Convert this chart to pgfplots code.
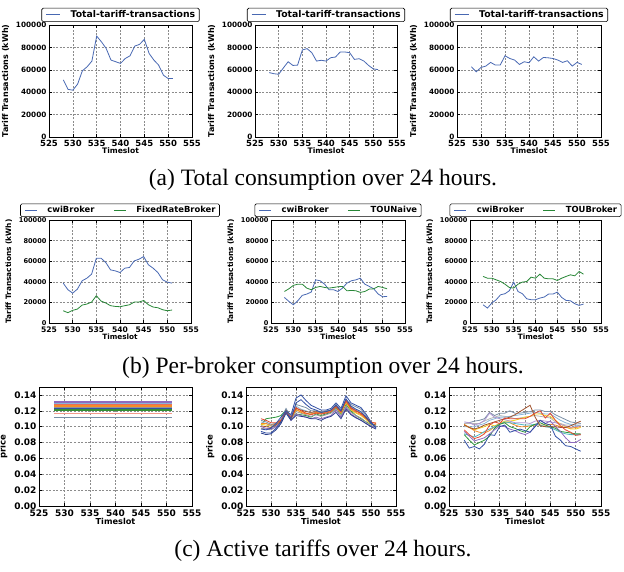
\documentclass[border=0pt]{standalone}
\usepackage{fontspec}
\setmainfont{Liberation Serif}
\newfontfamily\dvs{DejaVu Sans}
\usepackage{pgfplots}
\usepackage{pgfplotstable}
\pgfplotsset{compat=1.18}
\newcommand\fs[1]{\fontsize{#1}{#1}\selectfont}
\definecolor{mblue}{RGB}{72,104,178}
\definecolor{mgreen}{RGB}{40,135,55}
\definecolor{c1}{RGB}{50,80,165}
\definecolor{c2}{RGB}{226,74,51}
\definecolor{c3}{RGB}{245,140,40}
\definecolor{c4}{RGB}{44,150,60}
\definecolor{c5}{RGB}{142,107,191}
\definecolor{c6}{RGB}{122,143,166}
\definecolor{c7}{RGB}{136,181,216}
\definecolor{c8}{RGB}{43,63,140}
\definecolor{c9}{RGB}{245,208,32}
\definecolor{c10}{RGB}{160,82,45}
\definecolor{c11}{RGB}{77,182,194}
\definecolor{c12}{RGB}{150,150,150}
\definecolor{c13}{RGB}{240,128,110}

\pgfplotstableread{
t a b c
528 51000 57500 62700
529 42500 56500 58200
530 41800 56000 62100
531 47200 61700 63300
532 59100 67200 66600
533 62700 63900 64200
534 67800 64200 64200
535 90100 77700 72500
536 85000 78900 70100
537 79000 75300 68700
538 68700 67800 64800
539 67200 68500 67200
540 65700 67800 66300
541 70100 70800 71600
542 72500 71400 67800
543 81200 75900 71000
544 82700 75900 70700
545 87200 75300 70100
546 74600 69300 68700
547 68700 69900 66600
548 64200 67800 68100
549 55200 63900 63300
550 52200 60800 66600
551 52200 60200 64800
}\totals

\pgfplotstableread{
t c4 f4 c5 n5 c6 b6
528 38700 11900 24800 30600 17700 45200
529 32300 10000 21000 33200 14500 43500
530 29000 12300 17700 36500 19400 43500
531 32900 13500 21600 37700 22600 41900
532 41000 17400 26800 37700 27400 40300
533 43500 18400 28100 33900 28400 37700
534 47400 20300 30000 32300 31300 34500
535 62900 26500 41900 34500 39700 33900
536 62900 21300 41000 35500 30600 37700
537 58700 19400 37700 34500 28400 39700
538 51600 16800 32300 33900 23500 40300
539 50600 16100 32300 34500 22600 44500
540 49000 15800 30600 35200 22600 43500
541 53200 16800 33900 35500 24200 47400
542 53900 17700 38700 31300 25200 43500
543 60300 20300 41000 31600 28100 42900
544 61900 20300 41900 31300 28100 42900
545 64500 21900 43500 29700 30000 41300
546 56500 17700 37700 30600 24800 43500
547 53200 15500 35500 32900 21900 45200
548 49000 14800 33200 33200 21600 46800
549 41900 12900 28100 35500 18700 45800
550 39700 11900 25500 34500 17100 50000
551 38700 12600 25800 33200 18400 47400
}\brokers

\pgfplotstableread{
t L1 L2 L3 L4 L5 L6 L7 L8 L9 L10 L11 L12
528 0.097 0.094 0.110 0.104 0.102 0.100 0.108 0.106 0.092 0.103 0.101 0.098
529 0.096 0.092 0.108 0.104 0.110 0.098 0.106 0.104 0.090 0.102 0.100 0.097
530 0.098 0.092 0.105 0.102 0.111 0.097 0.103 0.101 0.091 0.101 0.099 0.096
531 0.104 0.098 0.105 0.104 0.112 0.100 0.104 0.103 0.096 0.103 0.102 0.100
532 0.112 0.106 0.108 0.108 0.114 0.106 0.109 0.108 0.104 0.107 0.107 0.105
533 0.120 0.118 0.118 0.120 0.121 0.119 0.123 0.120 0.117 0.119 0.121 0.118
534 0.115 0.110 0.112 0.111 0.112 0.108 0.112 0.111 0.108 0.110 0.110 0.109
535 0.136 0.130 0.124 0.122 0.116 0.116 0.128 0.126 0.114 0.121 0.123 0.119
536 0.140 0.134 0.120 0.118 0.115 0.114 0.126 0.122 0.113 0.119 0.121 0.117
537 0.133 0.128 0.117 0.116 0.114 0.112 0.124 0.120 0.112 0.117 0.119 0.115
538 0.127 0.123 0.115 0.116 0.112 0.110 0.120 0.117 0.110 0.116 0.118 0.113
539 0.124 0.121 0.117 0.118 0.116 0.112 0.120 0.118 0.110 0.117 0.119 0.115
540 0.121 0.118 0.116 0.117 0.114 0.110 0.119 0.117 0.108 0.116 0.118 0.113
541 0.121 0.119 0.117 0.118 0.116 0.112 0.120 0.118 0.111 0.118 0.119 0.115
542 0.123 0.121 0.119 0.120 0.118 0.114 0.121 0.120 0.113 0.119 0.121 0.117
543 0.130 0.127 0.125 0.126 0.124 0.121 0.128 0.126 0.118 0.125 0.127 0.122
544 0.123 0.120 0.118 0.119 0.116 0.112 0.121 0.119 0.110 0.117 0.119 0.114
545 0.139 0.135 0.133 0.131 0.128 0.124 0.134 0.132 0.122 0.130 0.133 0.126
546 0.130 0.126 0.123 0.122 0.120 0.116 0.128 0.125 0.115 0.121 0.124 0.118
547 0.127 0.122 0.120 0.118 0.114 0.112 0.125 0.121 0.111 0.117 0.120 0.114
548 0.124 0.119 0.116 0.115 0.110 0.108 0.122 0.118 0.108 0.114 0.117 0.111
549 0.116 0.112 0.112 0.110 0.106 0.104 0.114 0.112 0.104 0.109 0.111 0.106
550 0.106 0.104 0.106 0.105 0.103 0.100 0.104 0.104 0.100 0.103 0.104 0.101
551 0.098 0.099 0.104 0.105 0.102 0.099 0.100 0.101 0.097 0.103 0.102 0.100
}\pricesB

\pgfplotstableread{
t gb rd db gr pu ye lb lv or tl gy br
528 0.104 0.096 0.083 0.090 0.094 0.102 0.100 0.106 0.103 0.091 0.104 0.102
529 0.105 0.090 0.073 0.083 0.088 0.099 0.100 0.105 0.099 0.089 0.104 0.099
530 0.107 0.085 0.075 0.077 0.082 0.096 0.100 0.102 0.095 0.087 0.104 0.097
531 0.108 0.087 0.072 0.080 0.084 0.098 0.102 0.104 0.093 0.090 0.104 0.099
532 0.110 0.091 0.078 0.083 0.086 0.100 0.104 0.108 0.092 0.094 0.107 0.102
533 0.118 0.102 0.090 0.088 0.091 0.103 0.108 0.117 0.095 0.097 0.110 0.104
534 0.114 0.106 0.089 0.098 0.096 0.101 0.110 0.112 0.100 0.100 0.112 0.106
535 0.117 0.104 0.100 0.103 0.101 0.104 0.112 0.110 0.104 0.103 0.114 0.108
536 0.117 0.111 0.102 0.105 0.100 0.107 0.112 0.109 0.105 0.106 0.113 0.110
537 0.120 0.110 0.093 0.100 0.097 0.107 0.113 0.107 0.105 0.105 0.112 0.112
538 0.117 0.110 0.095 0.098 0.095 0.108 0.114 0.105 0.102 0.104 0.110 0.115
539 0.117 0.110 0.097 0.095 0.092 0.110 0.115 0.105 0.100 0.103 0.111 0.119
540 0.118 0.110 0.095 0.093 0.090 0.112 0.116 0.105 0.100 0.102 0.112 0.123
541 0.119 0.113 0.093 0.100 0.093 0.113 0.117 0.104 0.101 0.102 0.113 0.127
542 0.121 0.117 0.100 0.103 0.101 0.116 0.118 0.107 0.102 0.103 0.114 0.112
543 0.121 0.120 0.108 0.105 0.108 0.116 0.117 0.108 0.102 0.102 0.113 0.101
544 0.119 0.111 0.104 0.102 0.104 0.114 0.116 0.107 0.102 0.100 0.112 0.100
545 0.119 0.117 0.102 0.100 0.107 0.113 0.116 0.106 0.103 0.099 0.111 0.100
546 0.115 0.108 0.088 0.098 0.100 0.108 0.112 0.105 0.102 0.096 0.106 0.100
547 0.112 0.101 0.083 0.094 0.094 0.103 0.108 0.103 0.100 0.093 0.104 0.099
548 0.109 0.096 0.076 0.093 0.086 0.100 0.105 0.101 0.099 0.091 0.102 0.099
549 0.106 0.093 0.075 0.092 0.080 0.097 0.103 0.099 0.098 0.090 0.102 0.101
550 0.105 0.089 0.072 0.091 0.080 0.097 0.102 0.100 0.099 0.090 0.102 0.104
551 0.104 0.090 0.069 0.091 0.084 0.099 0.101 0.101 0.100 0.090 0.102 0.107
}\pricesC

\pgfplotsset{
  mpl/.style={
    scale only axis, xmin=525, xmax=555, xtick={525,530,535,540,545,550,555},
    grid=major, grid style={black!45, dash pattern=on 2pt off 1.5pt, line width=0.5pt},
    axis line style={black, line width=0.8pt},
    tick align=inside, tick pos=both, major tick length=3pt,
    every tick/.style={black, line width=0.5pt},
    /pgf/number format/assume math mode=true,
    /pgf/number format/fixed,
    /pgf/number format/1000 sep={},
    scaled y ticks=false, scaled x ticks=false,
    xlabel={Timeslot},
    every axis x label/.style={at={(0.5,0)}, anchor=north, yshift=-7.5pt, font=\dvs\bfseries\fs{7.6}},
    legend cell align=left,
    legend style={at={(0.5,1)}, anchor=south, yshift=3pt, draw=black, rounded corners=1.5pt,
      line width=0.6pt, font=\dvs\bfseries\fs{9.3}, inner xsep=4pt, inner ysep=1.5pt,
      nodes={inner xsep=0pt, inner ysep=1pt},
      /tikz/every odd column/.append style={column sep=10pt},
      /tikz/every even column/.append style={column sep=19pt}},
  },
  kwh/.style={mpl, ymin=0, ymax=100000, ytick={0,20000,40000,60000,80000,100000},
    ylabel={Tariff Transactions (kWh)}, ylabel style={font=\dvs\bfseries\fs{8}},
    yticklabel style={font=\dvs\bfseries\fs{7.3}, xshift=1pt, /pgf/number format/fixed, /pgf/number format/precision=0},
    xticklabel style={font=\dvs\bfseries\fs{8.5}}},
  price/.style={mpl, ymin=0, ymax=0.15, ytick={0,0.02,0.04,0.06,0.08,0.10,0.12,0.14},
    ylabel={price}, ylabel style={font=\dvs\bfseries\fs{8.5}},
    yticklabel style={font=\dvs\bfseries\fs{9}, xshift=1pt, /pgf/number format/fixed, /pgf/number format/fixed zerofill, /pgf/number format/precision=2},
    xticklabel style={font=\dvs\bfseries\fs{9}},
    every axis x label/.style={at={(0.5,0)}, anchor=north, yshift=-8.5pt, font=\dvs\bfseries\fs{8.2}},
    height=119pt},
  ln/.style={line width=0.8pt},
  r2/.style={yticklabel style={font=\dvs\bfseries\fs{6.6}}, xticklabel style={font=\dvs\bfseries\fs{7.6}},
    ylabel style={font=\dvs\bfseries\fs{7.4}},
    every axis x label/.style={at={(0.5,0)}, anchor=north, yshift=-7pt, font=\dvs\bfseries\fs{7.3}},
    legend columns=2, legend style={font=\dvs\bfseries\fs{8.4}}},
}
\newcommand\limg[1]{\draw[#1, line width=0.9pt] (0pt,0pt) -- (12pt,0pt);}

\begin{document}
\begin{tikzpicture}
\path[use as bounding box] (0,0) rectangle (624pt,-572pt);

% Row 1
\begin{axis}[kwh, at={(49pt,-137pt)}, anchor=south west, width=143pt, height=112pt,
  legend image code/.code={\draw[mblue, line width=0.9pt] (0pt,0pt) -- (14pt,0pt);}]
\addplot[mblue, ln] table[x=t,y=a]{\totals};
\addlegendentry{Total-tariff-transactions}
\end{axis}
\begin{axis}[kwh, at={(255pt,-137pt)}, anchor=south west, width=142pt, height=112pt,
  legend image code/.code={\draw[mblue, line width=0.9pt] (0pt,0pt) -- (14pt,0pt);}]
\addplot[mblue, ln] table[x=t,y=b]{\totals};
\addlegendentry{Total-tariff-transactions}
\end{axis}
\begin{axis}[kwh, at={(457pt,-137pt)}, anchor=south west, width=144pt, height=112pt,
  legend image code/.code={\draw[mblue, line width=0.9pt] (0pt,0pt) -- (14pt,0pt);}]
\addplot[mblue, ln] table[x=t,y=c]{\totals};
\addlegendentry{Total-tariff-transactions}
\end{axis}
\node[font=\fs{23.5}] at (323pt,-180pt) {(a) Total consumption over 24 hours.};

% Row 2
\begin{axis}[kwh, r2, at={(49pt,-323pt)}, anchor=south west, width=142pt, height=103pt]
\addplot[mblue, ln, legend image code/.code={\limg{mblue}}] table[x=t,y=c4]{\brokers};
\addlegendentry{cwiBroker}
\addplot[mgreen, ln, legend image code/.code={\limg{mgreen}}] table[x=t,y=f4]{\brokers};
\addlegendentry{FixedRateBroker}
\end{axis}
\begin{axis}[kwh, r2, at={(271pt,-323pt)}, anchor=south west, width=134pt, height=103pt]
\addplot[mblue, ln, legend image code/.code={\limg{mblue}}] table[x=t,y=c5]{\brokers};
\addlegendentry{cwiBroker}
\addplot[mgreen, ln, legend image code/.code={\limg{mgreen}}] table[x=t,y=n5]{\brokers};
\addlegendentry{TOUNaive}
\end{axis}
\begin{axis}[kwh, r2, at={(470pt,-323pt)}, anchor=south west, width=131pt, height=103pt]
\addplot[mblue, ln, legend image code/.code={\limg{mblue}}] table[x=t,y=c6]{\brokers};
\addlegendentry{cwiBroker}
\addplot[mgreen, ln, legend image code/.code={\limg{mgreen}}] table[x=t,y=b6]{\brokers};
\addlegendentry{TOUBroker}
\end{axis}
\node[font=\fs{23.5}] at (323pt,-368pt) {(b) Per-broker consumption over 24 hours.};

% Row 3
\begin{axis}[price, at={(39pt,-506pt)}, anchor=south west, width=153pt]
\addplot[c6, line width=1.5pt] coordinates {(528,0.1117) (551,0.1117)};
\addplot[c13!80, line width=1.5pt] coordinates {(528,0.1167) (551,0.1167)};
\addplot[c5, line width=1.5pt] coordinates {(528,0.1308) (551,0.1308)};
\addplot[c7, line width=1.5pt] coordinates {(528,0.1292) (551,0.1292)};
\addplot[c2!80, line width=1.5pt] coordinates {(528,0.1275) (551,0.1275)};
\addplot[c3, line width=1.5pt] coordinates {(528,0.1258) (551,0.1258)};
\addplot[c12, line width=1.5pt] coordinates {(528,0.1242) (551,0.1242)};
\addplot[c1, line width=1.5pt] coordinates {(528,0.1225) (551,0.1225)};
\addplot[black!40!green!60!gray, line width=1.5pt] coordinates {(528,0.1213) (551,0.1213)};
\end{axis}
\begin{axis}[price, at={(246pt,-506pt)}, anchor=south west, width=150pt]
\addplot[c4, ln] table[x=t,y=L5]{\pricesB};
\addplot[c12, ln] table[x=t,y=L12]{\pricesB};
\addplot[c5, ln] table[x=t,y=L6]{\pricesB};
\addplot[c9, ln] table[x=t,y=L10]{\pricesB};
\addplot[c7, ln] table[x=t,y=L8]{\pricesB};
\addplot[c3, ln] table[x=t,y=L4]{\pricesB};
\addplot[c10, ln] table[x=t,y=L11]{\pricesB};
\addplot[c6, ln] table[x=t,y=L7]{\pricesB};
\addplot[c8, ln] table[x=t,y=L9]{\pricesB};
\addplot[c2, ln] table[x=t,y=L3]{\pricesB};
\addplot[c1, ln] table[x=t,y=L2]{\pricesB};
\addplot[c1, ln] table[x=t,y=L1]{\pricesB};
\end{axis}
\begin{axis}[price, at={(449pt,-506pt)}, anchor=south west, width=152pt]
\addplot[c6, ln] table[x=t,y=gb]{\pricesC};
\addplot[c12!70, ln] table[x=t,y=gy]{\pricesC};
\addplot[c7, ln] table[x=t,y=lb]{\pricesC};
\addplot[c9, ln] table[x=t,y=ye]{\pricesC};
\addplot[c5!70, ln] table[x=t,y=lv]{\pricesC};
\addplot[c3, ln] table[x=t,y=or]{\pricesC};
\addplot[c11, ln] table[x=t,y=tl]{\pricesC};
\addplot[c4, ln] table[x=t,y=gr]{\pricesC};
\addplot[c5, ln] table[x=t,y=pu]{\pricesC};
\addplot[c1, ln] table[x=t,y=db]{\pricesC};
\addplot[c10, ln] table[x=t,y=br]{\pricesC};
\addplot[c2, ln] table[x=t,y=rd]{\pricesC};
\end{axis}
\node[font=\fs{23.5}] at (323pt,-551pt) {(c) Active tariffs over 24 hours.};
\end{tikzpicture}
\end{document}
